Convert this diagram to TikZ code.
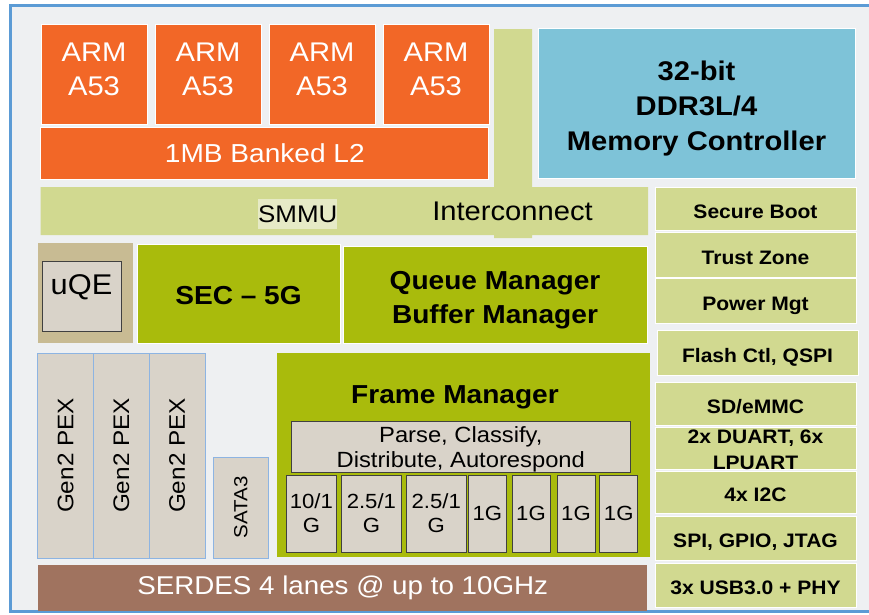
\documentclass[tikz,border=0pt]{standalone}
\usepackage{fontspec}
\setmainfont[FakeStretch=1.08]{Liberation Sans}
\definecolor{frameblue}{HTML}{5B9BD5}
\definecolor{bggray}{HTML}{EEF0F2}
\definecolor{armorange}{HTML}{F26727}
\definecolor{lightolive}{HTML}{D1D990}
\definecolor{smmubg}{HTML}{E6EAC6}
\definecolor{ddrblue}{HTML}{7EC3D8}
\definecolor{darkolive}{HTML}{A9BB0C}
\definecolor{uqetan}{HTML}{C8BB93}
\definecolor{boxgray}{HTML}{D9D3C9}
\definecolor{pexblue}{HTML}{8DB4E2}
\definecolor{serdesbrown}{HTML}{A0735F}
\begin{document}
\begin{tikzpicture}[x=1pt, y=-1pt,
    blk/.style={inner sep=0pt, outer sep=0pt, draw=white, line width=1pt, align=center},
    armbox/.style={blk, fill=armorange, text=white, font=\fontsize{27}{34}\selectfont},
    ddrbox/.style={blk, fill=ddrblue, font=\bfseries\fontsize{27}{35}\selectfont},
    sidebox/.style={blk, fill=lightolive, minimum width=201pt, text height=19.5pt, text depth=0pt, font=\bfseries\fontsize{19.5}{26}\selectfont},
    engbox/.style={blk, fill=darkolive, font=\bfseries\fontsize{26}{34}\selectfont},
    graybox/.style={inner sep=0pt, outer sep=0pt, fill=boxgray, draw=black!75, line width=1pt, align=center},
    pexbox/.style={inner sep=0pt, outer sep=0pt, fill=boxgray, draw=pexblue, line width=1pt},
    portbox/.style={graybox, minimum height=77pt, font=\fontsize{20.5}{24}\selectfont}]
  \useasboundingbox (0,0) rectangle (869,614);
  \fill[white] (0,0) rectangle (869,614);
  \draw[frameblue, line width=3pt, fill=bggray] (10,5) rectangle (885,611);

  % cores and cache
  \foreach \i in {1,...,4}
    \node[armbox, minimum width=106pt, minimum height=100pt, text depth=10pt] (arm\i) at ({94+114*(\i-1)},74) {ARM\\A53};
  \node[armbox, minimum width=448pt, minimum height=52pt, font=\fontsize{26}{30}\selectfont] (l2) at (264.8,153) {1MB Banked L2};

  % interconnect
  \fill[lightolive] (40.6,187) -- (494,187) -- (494,29) -- (532,29) -- (532,187) -- (648,187)
    -- (648,235) -- (532,235) -- (532,238) -- (494,238) -- (494,235) -- (40.6,235) -- cycle;
  \node[inner sep=0pt, fill=smmubg, minimum width=79pt, minimum height=30pt, font=\fontsize{24}{28}\selectfont] (smmu) at (297.8,214) {SMMU};
  \node[font=\fontsize{27}{30}\selectfont] (icon) at (512.5,211.5) {Interconnect};

  \node[ddrbox, minimum width=317pt, minimum height=150pt, text height=99.7pt] (ddr) at (696.5,103) {32-bit\\DDR3L/4\\Memory Controller};

  % right column
  \node[sidebox, minimum height=43pt] (sboot) at (755.5,208.5) {Secure Boot};
  \node[sidebox, minimum height=45pt] (tzone) at (755.5,254.5) {Trust Zone};
  \node[sidebox, minimum height=45pt] (pmgt) at (755.5,300.5) {Power Mgt};
  \node[sidebox, minimum height=45pt] (flash) at (757.5,352.5) {Flash Ctl, QSPI};
  \node[sidebox, minimum height=43pt] (sdmmc) at (755.5,403.5) {SD/eMMC};
  \node[sidebox, minimum height=42pt, text height=42pt] (duart) at (755.5,448) {2x DUART, 6x\\LPUART};
  \node[sidebox, minimum height=42pt] (itwoc) at (755.5,492) {4x I2C};
  \node[sidebox, minimum height=44pt] (spi) at (755.5,538) {SPI, GPIO, JTAG};
  \node[sidebox, minimum height=44pt] (usb) at (755.5,585) {3x USB3.0 + PHY};

  % engines
  \node[inner sep=0pt, fill=uqetan, minimum width=94.6pt, minimum height=100pt] (uqe) at (85.3,293) {};
  \node[graybox, minimum width=79pt, minimum height=70pt, text depth=22pt, font=\fontsize{28.5}{30}\selectfont] (uqein) at (81.5,296) {uQE};
  \node[engbox, minimum width=203pt, minimum height=99pt, text height=23pt] (sec) at (238.5,293.5) {SEC -- 5G};
  \node[engbox, minimum width=304pt, minimum height=97pt, text height=62.6pt] (qm) at (495,294.5) {Queue Manager\\Buffer Manager};

  % serial io
  \foreach \x [count=\i] in {65.7,121.4,177.2}
    \node[pexbox, rotate=90, minimum width=205pt, minimum height=55.7pt, font=\fontsize{22.5}{26}\selectfont] (pex\i) at (\x,455.5) {Gen2 PEX};
  \node[pexbox, rotate=90, minimum width=101pt, minimum height=55.5pt, font=\fontsize{19}{22}\selectfont] (sata) at (240.8,507.5) {SATA3};

  % frame manager
  \node[inner sep=0pt, fill=darkolive, minimum width=373pt, minimum height=204pt] (fman) at (463.5,455) {};
  \node[font=\bfseries\fontsize{26}{30}\selectfont] (fmtitle) at (455,397.5) {Frame Manager};
  \node[graybox, minimum width=339.5pt, minimum height=50.6pt, text depth=0pt, font=\fontsize{22}{25}\selectfont] (parse) at (460.8,447) {Parse, Classify,\\Distribute, Autorespond};
  \node[portbox, minimum width=50.7pt] (p1) at (311.4,513.5) {10/1\\G};
  \node[portbox, minimum width=59.2pt] (p2) at (371.4,513.5) {2.5/1\\G};
  \node[portbox, minimum width=59.4pt] (p3) at (436.3,513.5) {2.5/1\\G};
  \node[portbox, minimum width=37.9pt] (p4) at (487.4,513.5) {1G};
  \node[portbox, minimum width=38pt] (p5) at (531,513.5) {1G};
  \node[portbox, minimum width=38pt] (p6) at (576,513.5) {1G};
  \node[portbox, minimum width=37.9pt] (p7) at (618.7,513.5) {1G};

  \node[inner sep=0pt, fill=serdesbrown, text=white, minimum width=609.3pt, minimum height=45.7pt, font=\fontsize{25.7}{30}\selectfont] (serdes) at (342.7,588) {SERDES 4 lanes @ up to 10GHz};
\end{tikzpicture}
\end{document}
